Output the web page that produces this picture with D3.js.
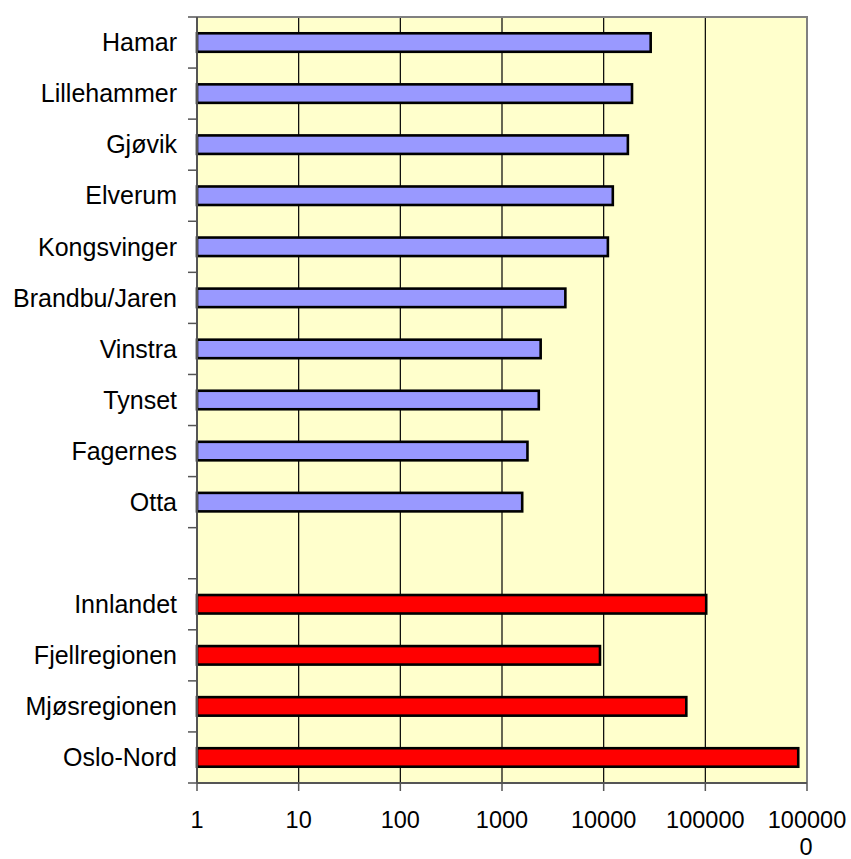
<!DOCTYPE html>
<html>
<head>
<meta charset="utf-8">
<script src="https://cdn.jsdelivr.net/npm/d3@7"></script>
<style>
  html, body { margin: 0; padding: 0; background: #fff; }
  svg { display: block; }
  text { font-family: "Liberation Sans", Arial, sans-serif; fill: #000; }
</style>
</head>
<body>
<script>
// ---- data ----
const categories = ["Hamar", "Lillehammer", "Gjøvik", "Elverum", "Kongsvinger", "Brandbu/Jaren",
  "Vinstra", "Tynset", "Fagernes", "Otta", "", "Innlandet", "Fjellregionen", "Mjøsregionen", "Oslo-Nord"];
const values = [29000, 19000, 17300, 12300, 11000, 4200, 2400, 2300, 1780, 1580, null,
  102000, 9200, 65000, 820000];
const groups = ["by", "by", "by", "by", "by", "by", "by", "by", "by", "by", null,
  "region", "region", "region", "region"];
const tickValues = [1, 10, 100, 1000, 10000, 100000, 1000000];

const W = 851, H = 859;
const plot = { left: 197, right: 807, top: 17, bottom: 783 };
const colors = { by: "#9999FF", region: "#FF0000" };

const svg = d3.select("body").append("svg").attr("width", W).attr("height", H);

const x = d3.scaleLog().domain([1, 1000000]).range([plot.left, plot.right]);
const y = d3.scaleBand().domain(d3.range(categories.length)).range([plot.top, plot.bottom]).padding(0);

// background
svg.append("rect").attr("x", plot.left).attr("y", plot.top)
  .attr("width", plot.right - plot.left).attr("height", plot.bottom - plot.top)
  .attr("fill", "#FFFFCC");

// gridlines
svg.append("g").selectAll("line").data(tickValues.slice(1, -1)).join("line")
  .attr("x1", d => x(d)).attr("x2", d => x(d))
  .attr("y1", plot.top).attr("y2", plot.bottom)
  .attr("stroke", "#000").attr("stroke-width", 1.2);

// border top/right
svg.append("path")
  .attr("d", `M${plot.left},${plot.top}H${plot.right}V${plot.bottom}`)
  .attr("fill", "none").attr("stroke", "#808080").attr("stroke-width", 2);

// bars
const barH = 18.5;
const idx = d3.range(categories.length).filter(i => values[i] != null);
svg.append("g").selectAll("rect").data(idx).join("rect")
  .attr("x", x(1))
  .attr("y", i => y(i) + y.bandwidth() / 2 - barH / 2)
  .attr("width", i => x(values[i]) - x(1))
  .attr("height", barH)
  .attr("fill", i => colors[groups[i]])
  .attr("stroke", "#000").attr("stroke-width", 2.6);

// y axis
const yAxisG = svg.append("g");
yAxisG.append("line").attr("x1", plot.left).attr("x2", plot.left)
  .attr("y1", plot.top).attr("y2", plot.bottom)
  .attr("stroke", "#555").attr("stroke-width", 2);
const boundaries = d3.range(categories.length + 1).map(i => plot.top + i * y.step());
yAxisG.selectAll("line.t").data(boundaries).join("line").attr("class", "t")
  .attr("x1", plot.left - 9).attr("x2", plot.left)
  .attr("y1", d => d).attr("y2", d => d)
  .attr("stroke", "#555").attr("stroke-width", 1.5);
yAxisG.selectAll("text").data(d3.range(categories.length)).join("text")
  .attr("x", 177)
  .attr("y", i => y(i) + y.bandwidth() / 2)
  .attr("dy", "0.35em")
  .attr("text-anchor", "end")
  .style("font-size", "25px")
  .text(i => categories[i]);

// x axis
const xAxisG = svg.append("g");
xAxisG.append("line").attr("x1", plot.left).attr("x2", plot.right)
  .attr("y1", plot.bottom).attr("y2", plot.bottom)
  .attr("stroke", "#555").attr("stroke-width", 2);
xAxisG.selectAll("line.t").data(tickValues).join("line").attr("class", "t")
  .attr("x1", d => x(d)).attr("x2", d => x(d))
  .attr("y1", plot.bottom).attr("y2", plot.bottom + 8)
  .attr("stroke", "#555").attr("stroke-width", 1.5);
// tick labels; long labels wrap after 6 characters, as in the original
const lines = [];
tickValues.forEach(d => {
  const s = String(d);
  lines.push({ v: d, text: s.slice(0, 6), row: 0 });
  if (s.length > 6) lines.push({ v: d, text: s.slice(6), row: 1 });
});
xAxisG.selectAll("text").data(lines).join("text")
  .attr("text-anchor", "middle")
  .attr("x", d => x(d.v) - d.row)
  .attr("y", d => d.row === 0 ? 828 : 854.5)
  .style("font-size", "23.5px")
  .text(d => d.text);
</script>
</body>
</html>
